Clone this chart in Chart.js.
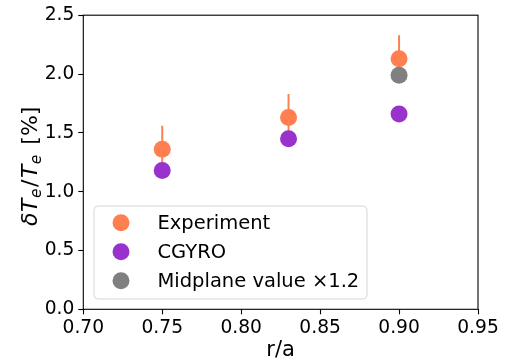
<!DOCTYPE html>
<html lang="en">
<head>
<meta charset="UTF-8">
<title>Electron temperature fluctuation level</title>
<script src="https://cdn.jsdelivr.net/npm/chart.js"></script>
<style>
  html, body { margin: 0; padding: 0; background: #ffffff; }
  #wrap { width: 509px; height: 363px; }
</style>
</head>
<body>
<div id="wrap"><canvas id="teChart"></canvas></div>
<script>
// radial positions and fluctuation levels (%)
const radius = [0.75, 0.83, 0.90];
const experiment = [1.36, 1.63, 2.13];
const experimentErr = [0.20, 0.20, 0.20];
const cgyro = [1.18, 1.45, 1.66];
const midplaneRadius = [0.90];
const midplane = [1.99];

const xTicks = [0.70, 0.75, 0.80, 0.85, 0.90, 0.95];
const yTicks = [0.0, 0.5, 1.0, 1.5, 2.0, 2.5];

const FONT = '"DejaVu Sans", sans-serif';
const COLOR_EXP = '#ff7f50';
const COLOR_CGYRO = '#9932cc';
const COLOR_MID = '#808080';

const toPoints = (xs, ys) => xs.map((x, i) => ({ x: x, y: ys[i] }));

// vertical error bars under the experiment markers
const errorBars = {
  id: 'errorBars',
  beforeDatasetsDraw(chart) {
    const { ctx, scales: { x, y } } = chart;
    ctx.save();
    ctx.strokeStyle = COLOR_EXP;
    ctx.lineWidth = 2;
    radius.forEach((r, i) => {
      const px = x.getPixelForValue(r);
      ctx.beginPath();
      ctx.moveTo(px, y.getPixelForValue(experiment[i] - experimentErr[i]));
      ctx.lineTo(px, y.getPixelForValue(experiment[i] + experimentErr[i]));
      ctx.stroke();
    });
    ctx.restore();
  }
};

// full box around the plot area
const frame = {
  id: 'frame',
  afterDatasetsDraw(chart) {
    const { ctx, chartArea: a } = chart;
    ctx.save();
    ctx.strokeStyle = '#000';
    ctx.lineWidth = 1.1;
    ctx.strokeRect(a.left, a.top, a.right - a.left, a.bottom - a.top);
    ctx.restore();
  }
};

// y-axis title with italic symbols and subscripts
const yTitle = {
  id: 'yTitle',
  afterDraw(chart) {
    const { ctx, chartArea: a } = chart;
    const size = 22, sub = size * 0.7;
    const parts = [
      { t: 'δ', f: `italic ${size}px ${FONT}`, dy: 0, gap: 0.5 },
      { t: 'T', f: `italic ${size}px ${FONT}`, dy: 0, gap: 0.5 },
      { t: 'e', f: `italic ${sub}px ${FONT}`, dy: 4, gap: 1.5 },
      { t: '/', f: `${size}px ${FONT}`, dy: 0, gap: 1.5 },
      { t: 'T', f: `italic ${size}px ${FONT}`, dy: 0, gap: 0.5 },
      { t: 'e', f: `italic ${sub}px ${FONT}`, dy: 4, gap: 3 },
      { t: ' [%]', f: `${size}px ${FONT}`, dy: 0, gap: 0 }
    ];
    ctx.save();
    let total = 0;
    parts.forEach(p => { ctx.font = p.f; p.w = ctx.measureText(p.t).width; total += p.w + p.gap; });
    ctx.translate(29, (a.top + a.bottom) / 2 + 4);
    ctx.rotate(-Math.PI / 2);
    ctx.fillStyle = '#000';
    ctx.textBaseline = 'alphabetic';
    let cx = -total / 2;
    parts.forEach(p => {
      ctx.font = p.f;
      ctx.fillText(p.t, cx, 8 + p.dy);
      cx += p.w + p.gap;
    });
    ctx.restore();
  }
};

// legend box in the lower left of the plot
const legendBox = {
  id: 'legendBox',
  afterDraw(chart) {
    const { ctx } = chart;
    const sets = chart.data.datasets;
    const bx = 94, by = 206, bw = 273, bh = 93, rowH = 29;
    ctx.save();
    ctx.globalAlpha = 0.8;
    ctx.fillStyle = '#ffffff';
    ctx.beginPath();
    ctx.roundRect(bx, by, bw, bh, 4);
    ctx.fill();
    ctx.globalAlpha = 1;
    ctx.strokeStyle = '#d6d6d6';
    ctx.lineWidth = 1;
    ctx.stroke();
    ctx.font = `19.5px ${FONT}`;
    ctx.textBaseline = 'middle';
    sets.forEach((ds, i) => {
      const cy = by + 16.7 + i * rowH;
      ctx.fillStyle = ds.backgroundColor;
      ctx.beginPath();
      ctx.arc(bx + 27, cy, 8.5, 0, Math.PI * 2);
      ctx.fill();
      ctx.fillStyle = '#000';
      ctx.fillText(ds.label, bx + 63.5, cy + 1);
    });
    ctx.restore();
  }
};

new Chart(document.getElementById('teChart'), {
  type: 'scatter',
  data: {
    datasets: [
      {
        label: 'Experiment',
        data: toPoints(radius, experiment),
        backgroundColor: COLOR_EXP,
        order: 2
      },
      {
        label: 'CGYRO',
        data: toPoints(radius, cgyro),
        backgroundColor: COLOR_CGYRO,
        order: 1
      },
      {
        label: 'Midplane value \u00d71.2',
        data: toPoints(midplaneRadius, midplane),
        backgroundColor: COLOR_MID,
        order: 0
      }
    ]
  },
  options: {
    responsive: true,
    maintainAspectRatio: false,
    animation: false,
    events: [],
    elements: {
      point: { radius: 8.5, borderWidth: 0, hoverRadius: 8.5 }
    },
    layout: {
      padding: { top: 15, right: 31, bottom: 0, left: 0 }
    },
    scales: {
      x: {
        type: 'linear',
        min: 0.70,
        max: 0.95,
        afterBuildTicks: s => { s.ticks = xTicks.map(v => ({ value: v })); },
        afterFit: s => { s.height = 53.7; },
        border: { display: false },
        grid: { drawOnChartArea: false, tickLength: 5, tickColor: '#000', tickWidth: 1.1 },
        ticks: {
          color: '#000',
          padding: 3,
          maxRotation: 0,
          font: { family: FONT, size: 18.67 },
          callback: v => v.toFixed(2)
        },
        title: {
          display: true,
          text: 'r/a',
          color: '#000',
          padding: { top: 0, bottom: 0 },
          font: { family: FONT, size: 21 }
        }
      },
      y: {
        type: 'linear',
        min: 0,
        max: 2.5,
        afterBuildTicks: s => { s.ticks = yTicks.map(v => ({ value: v })); },
        afterFit: s => { s.width = 83.3; },
        border: { display: false },
        grid: { drawOnChartArea: false, tickLength: 5, tickColor: '#000', tickWidth: 1.1 },
        ticks: {
          color: '#000',
          padding: 4,
          font: { family: FONT, size: 18.67 },
          callback: v => v.toFixed(1)
        }
      }
    },
    plugins: {
      legend: { display: false },
      tooltip: { enabled: false }
    }
  },
  plugins: [errorBars, frame, yTitle, legendBox]
});
</script>
</body>
</html>
